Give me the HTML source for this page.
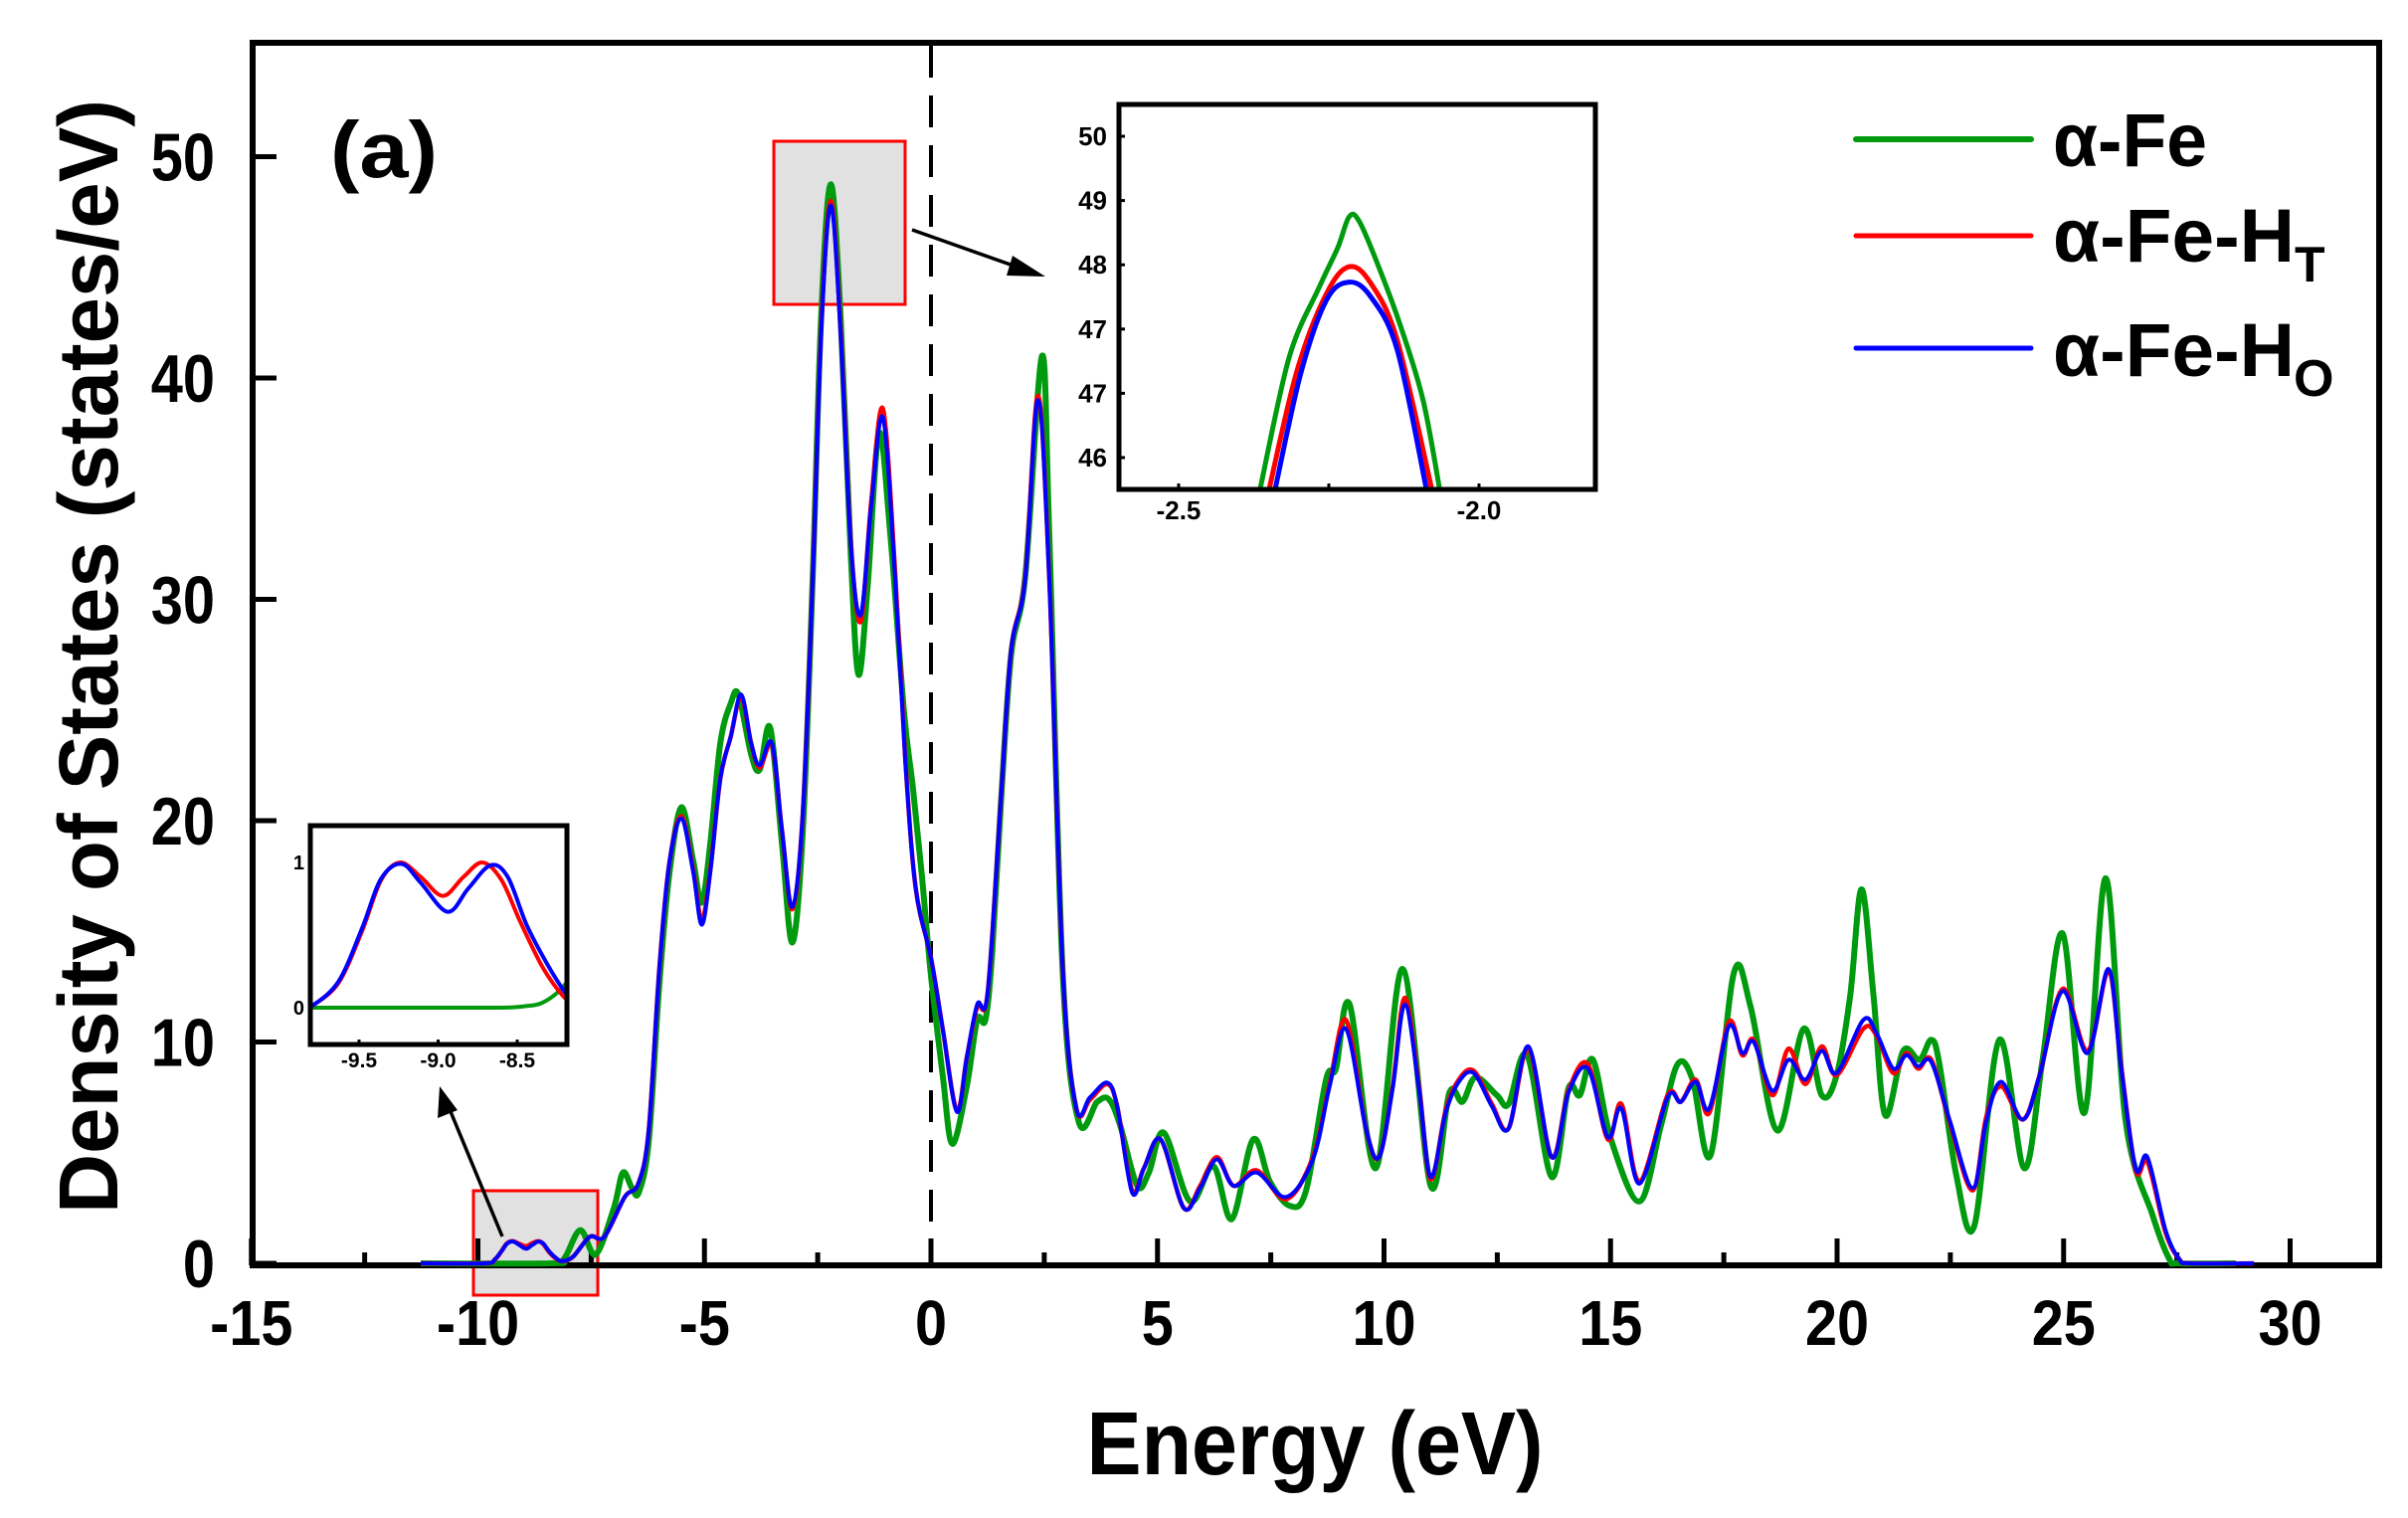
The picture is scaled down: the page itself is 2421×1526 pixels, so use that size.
<!DOCTYPE html>
<html><head><meta charset="utf-8"><style>
html,body{margin:0;padding:0;background:#fff;}
svg{display:block;font-family:"Liberation Sans",Arial,sans-serif;font-weight:bold;}
</style></head><body>
<svg id="chart" width="2421" height="1526" viewBox="0 0 2421 1526" xmlns="http://www.w3.org/2000/svg">
<defs>
<clipPath id="mainClip"><rect x="254" y="43" width="2138" height="1231"/></clipPath>
<clipPath id="in1Clip"><rect x="1125" y="105" width="479" height="387"/></clipPath>
<clipPath id="in2Clip"><rect x="312" y="830" width="258" height="220"/></clipPath>
</defs>
<rect x="0" y="0" width="2421" height="1526" fill="#fff"/>
<rect x="778" y="142" width="132" height="164" fill="#e1e1e1" stroke="#ff0000" stroke-width="3"/>
<rect x="476" y="1197" width="125" height="105" fill="#e1e1e1" stroke="#ff0000" stroke-width="3"/>
<line x1="936" y1="46" x2="936" y2="1270" stroke="#000" stroke-width="4" stroke-dasharray="32 18"/>
<g id="axes"></g>
<g id="mainCurves" clip-path="url(#mainClip)"></g>
<text x="332" y="178" font-size="80" textLength="108" lengthAdjust="spacingAndGlyphs">(a)</text>
<text transform="translate(118,660) rotate(-90)" text-anchor="middle" font-size="84" textLength="1120" lengthAdjust="spacingAndGlyphs">Density of States (states/eV)</text>
<text x="1322" y="1482" text-anchor="middle" font-size="90" textLength="459" lengthAdjust="spacingAndGlyphs">Energy (eV)</text>
<g>
<g>
<line x1="1866" y1="140" x2="2042" y2="140" stroke="#009a0e" stroke-width="6" stroke-linecap="round"/>
<text x="2064" y="167" font-size="76" textLength="155" lengthAdjust="spacingAndGlyphs">α-Fe</text></g>
<g>
<line x1="1866" y1="237" x2="2042" y2="237" stroke="#ff0000" stroke-width="5" stroke-linecap="round"/>
<text x="2064" y="263" font-size="76" textLength="243" lengthAdjust="spacingAndGlyphs">α-Fe-H</text>
<text x="2307" y="283" font-size="50">T</text></g>
<g>
<line x1="1866" y1="350" x2="2042" y2="350" stroke="#0000ff" stroke-width="5" stroke-linecap="round"/>
<text x="2064" y="378" font-size="76" textLength="243" lengthAdjust="spacingAndGlyphs">α-Fe-H</text>
<text x="2306" y="398" font-size="52">O</text></g>
</g>
<g>
<line x1="917" y1="231" x2="1030" y2="271" stroke="#000" stroke-width="3.5"/>
<polygon points="1051,278 1018,257 1012,277" fill="#000"/></g>
<g>
<line x1="505" y1="1243" x2="452" y2="1115" stroke="#000" stroke-width="3.5"/>
<polygon points="442,1092 440,1124 460,1116" fill="#000"/></g>
<g id="inset1">
<rect x="1125" y="105" width="479" height="387" fill="#fff"/>
<g id="in1Curves" clip-path="url(#in1Clip)"></g>
<rect x="1125" y="105" width="479" height="387" fill="none" stroke="#000" stroke-width="5"/>
<g id="in1Axes"></g>
</g>
<g id="inset2">
<rect x="312" y="830" width="258" height="220" fill="#fff"/>
<g id="in2Curves" clip-path="url(#in2Clip)"></g>
<rect x="312" y="830" width="258" height="220" fill="none" stroke="#000" stroke-width="5"/>
<g id="in2Axes"></g>
</g>
</svg>
<script>
// ---- main chart data ----
const eFe = [-11.26,-8.4,-8.1,-7.74,-7.4,-7.0,-6.8,-6.6,-6.45,-6.23,-6.0,-5.78,-5.51,-5.25,-5.06,-4.87,-4.65,-4.42,-4.25,-3.97,-3.78,-3.55,-3.29,-3.06,-2.83,-2.61,-2.42,-2.21,-2.0,-1.77,-1.6,-1.4,-1.15,-0.9,-0.6,-0.4,-0.2,0,0.26,0.47,0.79,1.02,1.2,1.35,1.55,1.77,2.08,2.45,2.61,2.91,3.26,3.67,3.93,4.18,4.55,4.81,5.14,5.72,6.23,6.64,7.11,7.48,7.92,8.28,8.72,8.94,9.24,9.82,10.41,11.03,11.44,11.73,12.02,12.49,12.75,13.16,13.70,14.07,14.32,14.61,15.01,15.64,16.11,16.48,16.81,17.21,17.72,18.09,18.68,19.26,19.66,19.99,20.29,20.54,20.80,21.06,21.46,21.82,22.08,22.26,22.63,23.03,23.58,24.13,24.53,24.98,25.46,25.93,26.37,26.96,27.33,27.55,28.8];
const dosFe = [0,0,0.2,1.5,0.4,2.5,4.1,3.4,3.2,5.5,12.5,17.5,20.6,18.2,16.3,19.0,23.5,25.3,25.7,23.0,22.3,24.2,19.0,14.5,19.5,31.0,43.0,48.75,43.0,32.0,26.6,30.5,37.5,33,25,21.5,17.5,13.0,8.5,5.4,8.0,11,11,14,21,27.5,31,41,33,13,6.4,7.3,7.4,6.2,3.5,4.1,5.9,2.8,4.4,2.0,5.6,3.7,2.6,3.3,8.3,8.8,11.7,4.3,13.3,3.5,7.7,7.3,8.4,7.6,7.2,9.4,3.9,7.9,7.6,9.2,5.6,2.8,6.2,9.0,8.3,4.9,13.1,11.6,6.0,10.6,7.6,8.5,12.1,16.9,12.2,6.7,9.6,9.2,10.1,9.0,4.0,1.7,10.1,4.3,9.1,14.9,6.8,17.4,6.4,2.2,0.2,0,0];
const eH = [-11.26,-9.85,-9.63,-9.48,-9.36,-9.23,-9.11,-8.94,-8.81,-8.67,-8.56,-8.44,-8.31,-8.15,-7.9,-7.53,-7.21,-6.76,-6.46,-6.23,-6.0,-5.78,-5.51,-5.25,-5.06,-4.87,-4.65,-4.42,-4.19,-3.97,-3.78,-3.51,-3.29,-3.06,-2.83,-2.61,-2.42,-2.21,-2.0,-1.77,-1.55,-1.32,-1.06,-0.79,-0.57,-0.34,0,0.26,0.57,0.79,1.02,1.25,1.55,1.77,2.08,2.36,2.61,2.91,3.21,3.51,3.89,4.11,4.44,4.70,5.07,5.58,5.94,6.31,6.68,7.19,7.84,8.43,8.80,9.16,9.60,9.89,10.19,10.46,10.77,11.03,11.36,11.65,11.98,12.38,12.75,13.19,13.70,14.07,14.50,14.94,15.24,15.64,16.26,16.55,16.88,17.18,17.61,17.91,18.16,18.57,18.93,19.30,19.66,19.99,20.58,20.87,21.24,21.53,21.79,22.08,22.48,22.99,23.29,23.62,24.10,24.47,24.98,25.53,25.99,26.26,26.59,26.85,27.25,27.55,27.8,29.2];
const dosHO = [0,0,0.18,0.55,0.89,0.99,0.86,0.66,0.82,0.98,0.9,0.57,0.3,0.1,0.3,1.2,1.2,3.0,3.6,6.0,13.2,18.0,20.1,17.7,15.3,17.7,21.9,23.8,25.7,23.5,22.5,23.5,19.6,16.1,20.3,30.9,42.2,47.8,42.2,32.5,29.3,34.2,38.2,30.9,22.8,17.0,13.8,10.6,6.85,9.3,11.7,12.2,21.2,27.7,30.9,39.0,30.9,13.2,7.0,7.5,8.16,7.1,3.2,4.3,5.6,2.5,3.4,4.7,3.5,4.1,3.0,4.7,8.0,10.6,6.1,4.8,7.9,11.7,7.9,3.9,6.8,8.2,8.6,7.1,6.1,9.8,4.8,7.7,8.8,5.7,7.0,3.6,7.5,7.3,8.2,7.0,10.7,9.5,10.0,7.8,9.2,8.3,9.6,8.6,11.0,10.4,8.8,9.4,8.9,9.1,6.5,3.4,6.4,8.2,6.5,8.5,12.3,9.5,13.3,9.0,4.3,4.8,1.5,0.2,0,0];
const dosHT = [0,0,0.17,0.55,0.9,1.0,0.9,0.77,0.9,1.0,0.88,0.54,0.27,0.1,0.3,1.2,1.2,3.0,3.6,6.0,13.2,18.0,20.2,17.8,15.5,17.8,21.9,23.8,25.6,23.5,22.4,23.4,19.6,16.0,20.3,31.0,42.4,48.0,42.4,32.6,29.0,34.4,38.6,31.2,22.9,17.0,13.8,10.6,6.9,9.3,11.6,12.2,21.2,27.7,31.0,39.2,31.0,13.2,7.0,7.4,8.1,7.1,3.3,4.3,5.6,2.5,3.5,4.8,3.5,4.2,2.9,4.8,8.1,11.0,6.1,4.8,8.0,12.0,8.0,3.8,6.9,8.3,8.7,7.2,6.1,9.7,4.8,7.8,9.0,5.6,7.2,3.7,7.6,7.3,8.3,6.8,10.9,9.4,10.1,7.6,9.7,8.1,9.8,8.5,10.6,10.3,8.6,9.5,8.8,9.2,6.4,3.3,6.6,8.0,6.5,8.5,12.4,9.6,13.2,9.1,4.2,4.6,1.4,0.2,0,0];
const xTicks = [-15,-10,-5,0,5,10,15,20,25,30];
const xTickLabels = ["-15","-10","-5","0","5","10","15","20","25","30"];
const yTicks = [0,10,20,30,40,50];
const yTickLabels = ["0","10","20","30","40","50"];
// ---- peak inset data ----
const in1EFe = [-2.365,-2.316,-2.266,-2.235,-2.216,-2.199,-2.167,-2.130,-2.093,-2.065];
const in1Fe = [44.48,46.56,47.65,48.27,48.75,48.67,47.97,47.03,45.89,44.48];
const in1EHT = [-2.350,-2.303,-2.254,-2.216,-2.180,-2.136,-2.078];
const in1HT = [44.48,46.35,47.55,47.97,47.71,46.82,44.48];
const in1EHO = [-2.340,-2.297,-2.254,-2.216,-2.180,-2.136,-2.087];
const in1HO = [44.48,46.30,47.45,47.73,47.50,46.67,44.48];
const in1YTicks = [50,49,48,47,46,45];
const in1YLabels = ["50","49","48","47","47","46"];
const in1XTicks = [-2.5,-2.0];
const in1XLabels = ["-2.5","-2.0"];
// ---- low-energy inset data ----
const in2EFe = [-9.85,-9.0,-8.6,-8.45,-8.35,-8.25,-8.15];
const in2Fe = [0,0,0,0.01,0.03,0.1,0.22];
const in2EHO = [-9.85,-9.80,-9.63,-9.48,-9.36,-9.23,-9.11,-8.94,-8.81,-8.67,-8.56,-8.44,-8.31,-8.20,-8.15];
const in2HO = [0.0,0.01,0.18,0.55,0.89,0.99,0.86,0.66,0.82,0.98,0.90,0.57,0.30,0.11,0.06];
const in2EHT = [-9.85,-9.80,-9.63,-9.48,-9.36,-9.24,-9.11,-8.97,-8.84,-8.72,-8.60,-8.48,-8.34,-8.21,-8.15];
const in2HT = [0.0,0.01,0.17,0.53,0.88,1.0,0.90,0.77,0.90,1.0,0.88,0.59,0.28,0.08,0.04];
const in2YTicks = [0,1];
const in2YLabels = ["0","1"];
const in2XTicks = [-9.5,-9.0,-8.5];
const in2XLabels = ["-9.5","-9.0","-8.5"];

const NS = "http://www.w3.org/2000/svg";
function mk(tag, attrs, parent){const el=document.createElementNS(NS,tag);for(const k in attrs)el.setAttribute(k,attrs[k]);parent.appendChild(el);return el;}
function smoothPath(xs, ys, sx, sy){
  const p = xs.map((x,i)=>[sx(x), sy(ys[i])]);
  let d = "M"+p[0][0].toFixed(1)+","+p[0][1].toFixed(1);
  for(let i=0;i<p.length-1;i++){
    const p0=p[Math.max(0,i-1)], p1=p[i], p2=p[i+1], p3=p[Math.min(p.length-1,i+2)];
    const c1=[p1[0]+(p2[0]-p0[0])/6, p1[1]+(p2[1]-p0[1])/6];
    const c2=[p2[0]-(p3[0]-p1[0])/6, p2[1]-(p3[1]-p1[1])/6];
    d+="C"+c1[0].toFixed(1)+","+c1[1].toFixed(1)+" "+c2[0].toFixed(1)+","+c2[1].toFixed(1)+" "+p2[0].toFixed(1)+","+p2[1].toFixed(1);
  }
  return d;
}
const X = e => 936 + 45.55*e;
const Y = v => 1270 - 22.25*v;
const mc = document.getElementById("mainCurves");
let pth;
pth = mk("path",{d:smoothPath(eFe,dosFe,X,Y),fill:"none",stroke:"#009a0e","stroke-width":6,"stroke-linejoin":"round"},mc);


pth = mk("path",{d:smoothPath(eH,dosHT,X,Y),fill:"none",stroke:"#ff0000","stroke-width":4.5,"stroke-linejoin":"round"},mc);


pth = mk("path",{d:smoothPath(eH,dosHO,X,Y),fill:"none",stroke:"#0000ff","stroke-width":4,"stroke-linejoin":"round"},mc);



const ax = document.getElementById("axes");
let fr = mk("rect",{x:254,y:43,width:2138,height:1229,fill:"none",stroke:"#000","stroke-width":6},ax);


for(let e=-12.5;e<30;e+=5){
  const t=mk("line",{x1:X(e),x2:X(e),y1:1272,y2:1259,stroke:"#000","stroke-width":5},ax);
  
  
}
xTicks.forEach((e,i)=>{
  const t=mk("line",{x1:X(e),x2:X(e),y1:1272,y2:1245,stroke:"#000","stroke-width":5},ax);
  
  
  const g=mk("g",{transform:"translate("+X(e)+",1352) scale(0.9,1)"},ax);
  const tx=mk("text",{x:0,y:0,"text-anchor":"middle","font-size":64},g);
  tx.textContent=xTickLabels[i];
  
  
});
yTicks.forEach((v,i)=>{
  const t=mk("line",{x1:254,x2:278,y1:Y(v),y2:Y(v),stroke:"#000","stroke-width":5},ax);
  
  
  const g=mk("g",{transform:"translate(216,"+(Y(v)+24)+") scale(0.85,1)"},ax);
  const tx=mk("text",{x:0,y:0,"text-anchor":"end","font-size":68},g);
  tx.textContent=yTickLabels[i];
  
  
});

const X1 = e => 1185 + (e+2.5)*604;
const Y1 = v => 137 + (50-v)*64.6;
const c1 = document.getElementById("in1Curves");
pth = mk("path",{d:smoothPath(in1EFe,in1Fe,X1,Y1),fill:"none",stroke:"#009a0e","stroke-width":5},c1);


pth = mk("path",{d:smoothPath(in1EHT,in1HT,X1,Y1),fill:"none",stroke:"#ff0000","stroke-width":5},c1);


pth = mk("path",{d:smoothPath(in1EHO,in1HO,X1,Y1),fill:"none",stroke:"#0000ff","stroke-width":5},c1);


const a1 = document.getElementById("in1Axes");
in1YTicks.forEach((v,i)=>{
  mk("line",{x1:1125,x2:1131,y1:Y1(v),y2:Y1(v),stroke:"#000","stroke-width":3},a1);
  const tx=mk("text",{x:1113,y:Y1(v)+9,"text-anchor":"end","font-size":26},a1);
  tx.textContent=in1YLabels[i];
  
  
});
[-2.5,-2.25,-2.0].forEach(e=>{mk("line",{x1:X1(e),x2:X1(e),y1:492,y2:486,stroke:"#000","stroke-width":3},a1);});
in1XTicks.forEach((e,i)=>{
  const tx=mk("text",{x:X1(e),y:522,"text-anchor":"middle","font-size":26},a1);
  tx.textContent=in1XLabels[i];
  
  
});

const X2 = e => 361 + (e+9.5)*159;
const Y2 = v => 1013 - v*146;
const c2 = document.getElementById("in2Curves");
pth = mk("path",{d:smoothPath(in2EFe,in2Fe,X2,Y2),fill:"none",stroke:"#009a0e","stroke-width":4},c2);


pth = mk("path",{d:smoothPath(in2EHT,in2HT,X2,Y2),fill:"none",stroke:"#ff0000","stroke-width":4},c2);


pth = mk("path",{d:smoothPath(in2EHO,in2HO,X2,Y2),fill:"none",stroke:"#0000ff","stroke-width":4},c2);


const a2 = document.getElementById("in2Axes");
in2YTicks.forEach((v,i)=>{
  const tx=mk("text",{x:306,y:Y2(v)+7,"text-anchor":"end","font-size":20},a2);
  tx.textContent=in2YLabels[i];
  
  
});
in2XTicks.forEach((e,i)=>{
  mk("line",{x1:X2(e),x2:X2(e),y1:1050,y2:1045,stroke:"#000","stroke-width":3},a2);
  const tx=mk("text",{x:X2(e),y:1073,"text-anchor":"middle","font-size":21},a2);
  tx.textContent=in2XLabels[i];
  
  
});
</script>
</body></html>
